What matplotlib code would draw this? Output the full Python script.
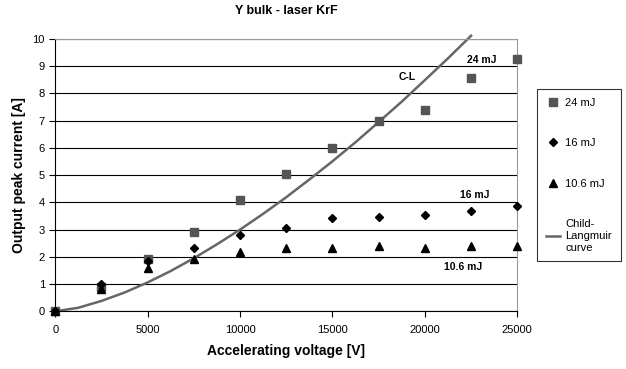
import matplotlib
matplotlib.use("Agg")
import matplotlib.pyplot as plt

plt.rcParams['font.family'] = ['Liberation Sans', 'DejaVu Sans']

# accelerating voltage [V]
voltage = [0, 2500, 5000, 7500, 10000, 12500, 15000, 17500, 20000, 22500, 25000]
# output peak current [A]
i_24 = [0, 0.90, 1.91, 2.93, 4.07, 5.06, 5.99, 7.00, 7.41, 8.55, 9.25]
i_16 = [0, 0.99, 1.84, 2.34, 2.82, 3.05, 3.44, 3.48, 3.53, 3.70, 3.86]
i_106 = [0, 0.81, 1.59, 1.93, 2.17, 2.32, 2.34, 2.41, 2.33, 2.40, 2.41]

# Child-Langmuir curve
cl_v = [0, 1250, 2500, 3750, 5000, 6250, 7500, 8750, 10000, 11250, 12500,
        13750, 15000, 16250, 17500, 18750, 20000, 21250, 22500]
cl_i = [0, 0.13, 0.38, 0.69, 1.06, 1.48, 1.95, 2.46, 3.00, 3.58, 4.19,
        4.84, 5.51, 6.21, 6.95, 7.70, 8.49, 9.29, 10.12]

fig = plt.figure(figsize=(6.26, 3.69), dpi=100)
ax = fig.add_axes([0.0883, 0.1564, 0.738, 0.7379])

ax.set_axisbelow(True)
ax.yaxis.grid(True, color='black', linewidth=0.8)

ax.plot(voltage, i_24, 's', color='#555555', markersize=5.5, label='24 mJ', clip_on=False, zorder=3)
ax.plot(voltage, i_16, 'D', color='black', markersize=4, label='16 mJ', clip_on=False, zorder=3)
ax.plot(voltage, i_106, '^', color='black', markersize=5.5, label='10.6 mJ', clip_on=False, zorder=3)
ax.plot(cl_v, cl_i, '-', color='#666666', linewidth=1.8, label='Child-\nLangmuir\ncurve', clip_on=False, zorder=2)

ax.set_xlim(0, 25000)
ax.set_ylim(0, 10)
ax.set_xticks(range(0, 25001, 5000))
ax.set_yticks(range(0, 11))
ax.tick_params(labelsize=8, length=4, width=0.8)
ax.tick_params(axis='x', pad=6)

for s in ['top', 'right']:
    ax.spines[s].set_color('#999999')
for s in ['left', 'bottom']:
    ax.spines[s].set_color('black')

ax.set_title('Y bulk - laser KrF', fontsize=9, fontweight='bold', pad=18)
ax.set_xlabel('Accelerating voltage [V]', fontsize=10, fontweight='bold', labelpad=6)
ax.set_ylabel('Output peak current [A]', fontsize=10, fontweight='bold', labelpad=5)

ax.text(19030, 8.6, 'C-L', fontsize=7.5, fontweight='bold', ha='center', va='center')
ax.text(23100, 9.24, '24 mJ', fontsize=7.5, fontweight='bold', ha='center', va='center')
ax.text(22700, 4.28, '16 mJ', fontsize=7.5, fontweight='bold', ha='center', va='center')
ax.text(22090, 1.62, '10.6 mJ', fontsize=7.5, fontweight='bold', ha='center', va='center')

leg = ax.legend(loc='center left', bbox_to_anchor=(1.03, 0.5), frameon=True, fancybox=False,
                edgecolor='black', fontsize=8, labelspacing=2.75, handlelength=1.3,
                handletextpad=0.45, borderpad=0.8)
leg.get_frame().set_linewidth(0.8)

fig.savefig('out.png', dpi=100)
